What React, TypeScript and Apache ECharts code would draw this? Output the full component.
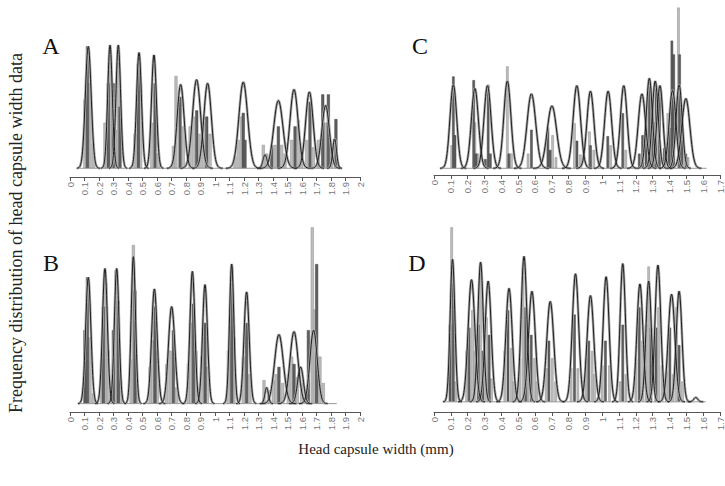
import React, { useEffect, useRef } from "react";
import * as echarts from "echarts";

// ---------- data ----------
const panelNames = ["A", "B", "C", "D"];
const axisMax = [2, 2, 1.7, 1.7];
const yTitle = "Frequency distribution of head capsule width data";
const xTitle = "Head capsule width (mm)";

// fitted normal components: means (mm), standard deviations (mm), peak heights (relative)
const aMeans = [0.126, 0.276, 0.333, 0.476, 0.579, 0.763, 0.873, 0.949, 1.195, 1.345, 1.437, 1.545, 1.651, 1.763, 1.825];
const aSds = [0.02, 0.016, 0.016, 0.017, 0.017, 0.024, 0.028, 0.026, 0.03, 0.014, 0.032, 0.028, 0.026, 0.026, 0.013];
const aPeaks = [0.99, 1.0, 1.0, 0.94, 0.92, 0.68, 0.72, 0.69, 0.7, 0.11, 0.55, 0.64, 0.62, 0.51, 0.24];

const bMeans = [0.126, 0.241, 0.322, 0.437, 0.582, 0.701, 0.844, 0.931, 1.115, 1.218, 1.356, 1.441, 1.545, 1.59, 1.68];
const bSds = [0.018, 0.017, 0.016, 0.015, 0.019, 0.022, 0.017, 0.017, 0.015, 0.018, 0.012, 0.03, 0.028, 0.02, 0.025];
const bPeaks = [0.86, 0.92, 0.92, 1.0, 0.78, 0.66, 0.9, 0.81, 0.95, 0.76, 0.11, 0.47, 0.49, 0.25, 0.5];

const cMeans = [0.115, 0.243, 0.318, 0.436, 0.579, 0.701, 0.849, 0.93, 1.035, 1.128, 1.236, 1.28, 1.315, 1.343, 1.418, 1.457, 1.497];
const cSds = [0.02, 0.021, 0.021, 0.021, 0.026, 0.028, 0.022, 0.021, 0.021, 0.02, 0.022, 0.018, 0.018, 0.018, 0.02, 0.018, 0.024];
const cPeaks = [0.91, 0.87, 0.9, 0.95, 0.81, 0.68, 0.9, 0.84, 0.84, 0.9, 0.81, 0.98, 0.95, 0.9, 0.85, 0.91, 0.76];

const dMeans = [0.11, 0.223, 0.277, 0.322, 0.446, 0.535, 0.582, 0.691, 0.841, 0.93, 1.023, 1.122, 1.224, 1.276, 1.331, 1.412, 1.457, 1.556];
const dSds = [0.014, 0.02, 0.016, 0.018, 0.019, 0.017, 0.02, 0.021, 0.019, 0.02, 0.018, 0.016, 0.018, 0.016, 0.017, 0.02, 0.017, 0.012];
const dPeaks = [0.98, 0.84, 0.96, 0.83, 0.78, 1.0, 0.76, 0.69, 0.88, 0.73, 0.86, 0.95, 0.81, 0.83, 0.94, 0.74, 0.76, 0.03];

// histogram bars [width (mm), frequency (relative)]
const aLight = [[0.103, 0.56], [0.138, 0.69], [0.161, 0.2], [0.241, 0.37], [0.276, 0.85], [0.317, 0.31], [0.333, 0.95], [0.448, 0.28], [0.487, 0.69], [0.563, 0.37], [0.609, 0.12], [0.713, 0.18], [0.731, 0.75], [0.782, 0.34], [0.828, 0.34], [0.851, 0.42], [0.897, 0.28], [0.92, 0.37], [0.966, 0.28], [1.138, 0.1], [1.161, 0.23], [1.184, 0.42], [1.333, 0.19], [1.356, 0.12], [1.414, 0.19], [1.46, 0.19], [1.483, 0.12], [1.529, 0.23], [1.575, 0.39], [1.598, 0.15], [1.632, 0.23], [1.678, 0.17], [1.713, 0.23], [1.762, 0.37], [1.805, 0.17]];
const aDark = [[0.12, 0.99], [0.264, 0.69], [0.298, 0.69], [0.345, 0.5], [0.471, 0.85], [0.586, 0.69], [0.759, 0.58], [0.874, 0.47], [0.943, 0.42], [1.195, 0.45], [1.207, 0.23], [1.391, 0.19], [1.437, 0.34], [1.552, 0.34], [1.655, 0.54], [1.743, 0.6], [1.782, 0.6], [1.834, 0.4]];

const bLight = [[0.138, 0.45], [0.161, 0.07], [0.218, 0.2], [0.248, 0.82], [0.264, 0.36], [0.317, 0.91], [0.349, 0.16], [0.421, 0.3], [0.437, 1.08], [0.46, 0.16], [0.552, 0.25], [0.57, 0.43], [0.602, 0.36], [0.667, 0.27], [0.69, 0.36], [0.736, 0.11], [0.816, 0.27], [0.832, 0.55], [0.869, 0.36], [0.908, 0.32], [0.947, 0.25], [1.092, 0.36], [1.131, 0.45], [1.195, 0.32], [1.241, 0.2], [1.338, 0.16], [1.368, 0.09], [1.402, 0.16], [1.421, 0.2], [1.467, 0.14], [1.506, 0.2], [1.529, 0.32], [1.568, 0.18], [1.598, 0.14], [1.671, 1.2], [1.685, 0.64], [1.724, 0.32], [1.747, 0.14]];
const bDark = [[0.103, 0.5], [0.12, 0.86], [0.23, 0.66], [0.299, 0.5], [0.333, 0.7], [0.448, 0.77], [0.586, 0.66], [0.713, 0.5], [0.851, 0.68], [0.931, 0.55], [1.115, 0.93], [1.218, 0.55], [1.441, 0.25], [1.545, 0.27], [1.644, 0.5], [1.701, 0.95]];

const cLight = [[0.105, 0.25], [0.243, 0.5], [0.26, 0.16], [0.436, 1.11], [0.46, 0.16], [0.559, 0.16], [0.705, 0.36], [0.725, 0.12], [0.835, 0.49], [0.87, 0.15], [0.924, 0.4], [0.95, 0.2], [1.05, 0.25], [1.14, 0.2], [1.31, 0.5], [1.39, 0.6], [1.453, 1.75], [1.51, 0.12]];
const cDark = [[0.115, 1.0], [0.125, 0.36], [0.236, 0.96], [0.25, 0.16], [0.305, 0.1], [0.322, 0.91], [0.335, 0.16], [0.445, 0.16], [0.579, 0.42], [0.677, 0.45], [0.69, 0.2], [0.85, 0.3], [0.93, 0.25], [1.033, 0.35], [1.122, 0.6], [1.22, 0.16], [1.24, 0.36], [1.26, 0.6], [1.28, 0.96], [1.3, 0.72], [1.32, 0.9], [1.34, 0.85], [1.369, 0.22], [1.398, 0.44], [1.414, 1.39], [1.425, 1.24], [1.46, 1.24], [1.475, 0.36], [1.497, 0.16]];

const dLight = [[0.105, 1.2], [0.13, 0.14], [0.194, 0.35], [0.229, 0.63], [0.243, 0.35], [0.277, 0.88], [0.312, 0.58], [0.342, 0.16], [0.421, 0.35], [0.46, 0.37], [0.474, 0.14], [0.51, 0.3], [0.529, 0.93], [0.559, 0.39], [0.598, 0.3], [0.612, 0.14], [0.667, 0.23], [0.703, 0.3], [0.723, 0.14], [0.815, 0.23], [0.855, 0.23], [0.904, 0.3], [0.94, 0.35], [0.954, 0.19], [1.0, 0.25], [1.043, 0.25], [1.106, 0.14], [1.141, 0.19], [1.2, 0.3], [1.24, 0.42], [1.26, 0.53], [1.276, 0.93], [1.335, 0.65], [1.355, 0.25], [1.382, 0.21], [1.422, 0.19], [1.442, 0.65], [1.477, 0.14]];
const dDark = [[0.095, 0.53], [0.115, 0.81], [0.209, 0.51], [0.263, 0.53], [0.292, 0.35], [0.328, 0.46], [0.44, 0.63], [0.545, 0.65], [0.578, 0.46], [0.683, 0.42], [0.835, 0.6], [0.92, 0.42], [1.019, 0.42], [1.122, 0.53], [1.22, 0.65], [1.29, 0.51], [1.319, 0.51], [1.402, 0.51], [1.457, 0.39]];

const baseRanges = [[0.06, 1.87], [0.06, 1.84], [0.05, 1.62], [0.05, 1.615]];

// ---------- layout ----------
const grids = [
  { left: 70, top: 39, width: 290, height: 138, yMin: -0.071, yMax: 1.05, barW: 3 },
  { left: 70, top: 220, width: 290, height: 192, yMin: -0.057, yMax: 1.25, barW: 3 },
  { left: 434, top: 3, width: 287, height: 172, yMin: -0.073, yMax: 1.8, barW: 2.5 },
  { left: 434, top: 220, width: 287, height: 192, yMin: -0.07, yMax: 1.25, barW: 2.5 },
];
const letterPos = [[51, 46], [51, 263], [420, 46], [417, 263]];

const comps = [
  [aMeans, aSds, aPeaks],
  [bMeans, bSds, bPeaks],
  [cMeans, cSds, cPeaks],
  [dMeans, dSds, dPeaks],
];
const lights = [aLight, bLight, cLight, dLight];
const darks = [aDark, bDark, cDark, dDark];

function normalCurve(m: number, s: number, p: number) {
  const pts: number[][] = [];
  const n = 60;
  for (let k = 0; k <= n; k++) {
    const x = m - 4 * s + (8 * s * k) / n;
    const z = (x - m) / s;
    pts.push([x, p * Math.exp(-0.5 * z * z)]);
  }
  return pts;
}

export default function App() {
  const ref = useRef<HTMLDivElement>(null);
  useEffect(() => {
    const chart = echarts.init(ref.current!, null, { renderer: "svg" });
    const series: any[] = [];
    const xAxis: any[] = [];
    const yAxis: any[] = [];
    const grid: any[] = [];
    grids.forEach((g, i) => {
      grid.push({ left: g.left, top: g.top, width: g.width, height: g.height });
      xAxis.push({
        type: "value",
        gridIndex: i,
        min: 0,
        max: axisMax[i],
        interval: 0.1,
        splitLine: { show: false },
        axisLine: { show: true, onZero: false, lineStyle: { color: "#555", width: 1 } },
        axisTick: { show: true, length: 4, lineStyle: { color: "#555" } },
        axisLabel: {
          rotate: 90,
          fontSize: 9.5,
          color: "#777",
          margin: 5,
          fontFamily: "Liberation Sans",
          showMinLabel: true,
          showMaxLabel: true,
          formatter: (v: number) => String(+v.toFixed(1)),
        },
      });
      yAxis.push({ type: "value", gridIndex: i, min: g.yMin, max: g.yMax, show: false, splitLine: { show: false } });
      series.push({
        type: "bar",
        xAxisIndex: i,
        yAxisIndex: i,
        data: lights[i],
        barWidth: g.barW,
        barGap: "-100%",
        itemStyle: { color: "#bdbdbd", borderColor: "#8c8c8c", borderWidth: 0.5 },
        z: 2,
        silent: true,
      });
      series.push({
        type: "bar",
        xAxisIndex: i,
        yAxisIndex: i,
        data: darks[i],
        barWidth: g.barW,
        barGap: "-100%",
        itemStyle: { color: "#5f5f5f", borderColor: "#404040", borderWidth: 0.5 },
        z: 2,
        silent: true,
      });
      series.push({
        type: "line",
        xAxisIndex: i,
        yAxisIndex: i,
        data: [[baseRanges[i][0], 0], [baseRanges[i][1], 0]],
        showSymbol: false,
        symbol: "none",
        lineStyle: { color: "#999", width: 1 },
        z: 3,
        silent: true,
      });
      const [ms, ss, ps] = comps[i];
      ms.forEach((m, k) => {
        const pts = normalCurve(m, ss[k], ps[k]);
        series.push({
          type: "line",
          xAxisIndex: i,
          yAxisIndex: i,
          data: pts,
          showSymbol: false,
          symbol: "none",
          lineStyle: { color: "#aaa", width: 2.6 },
          z: 3,
          silent: true,
        });
        series.push({
          type: "line",
          xAxisIndex: i,
          yAxisIndex: i,
          data: pts,
          showSymbol: false,
          symbol: "none",
          lineStyle: { color: "#1e1e1e", width: 1 },
          z: 4,
          silent: true,
        });
      });
    });

    const graphic: any[] = panelNames.map((t, i) => ({
      type: "text",
      x: letterPos[i][0],
      y: letterPos[i][1],
      style: {
        text: t,
        fontSize: 24,
        fontFamily: "Liberation Serif",
        fill: "#111",
        textAlign: "center",
        textVerticalAlign: "middle",
      },
    }));
    graphic.push({
      type: "text",
      x: 16,
      y: 233,
      rotation: Math.PI / 2,
      style: {
        text: yTitle,
        fontSize: 18,
        fontFamily: "Liberation Serif",
        fill: "#222",
        textAlign: "center",
        textVerticalAlign: "middle",
      },
    });
    graphic.push({
      type: "text",
      x: 376,
      y: 449,
      style: {
        text: xTitle,
        fontSize: 15,
        fontFamily: "Liberation Serif",
        fill: "#222",
        textAlign: "center",
        textVerticalAlign: "middle",
      },
    });

    chart.setOption({
      animation: false,
      backgroundColor: "#fff",
      grid,
      xAxis,
      yAxis,
      series,
      graphic,
    });
    return () => chart.dispose();
  }, []);
  return <div ref={ref} style={{ position: "absolute", left: 0, top: 0, width: 725, height: 486 }} />;
}
